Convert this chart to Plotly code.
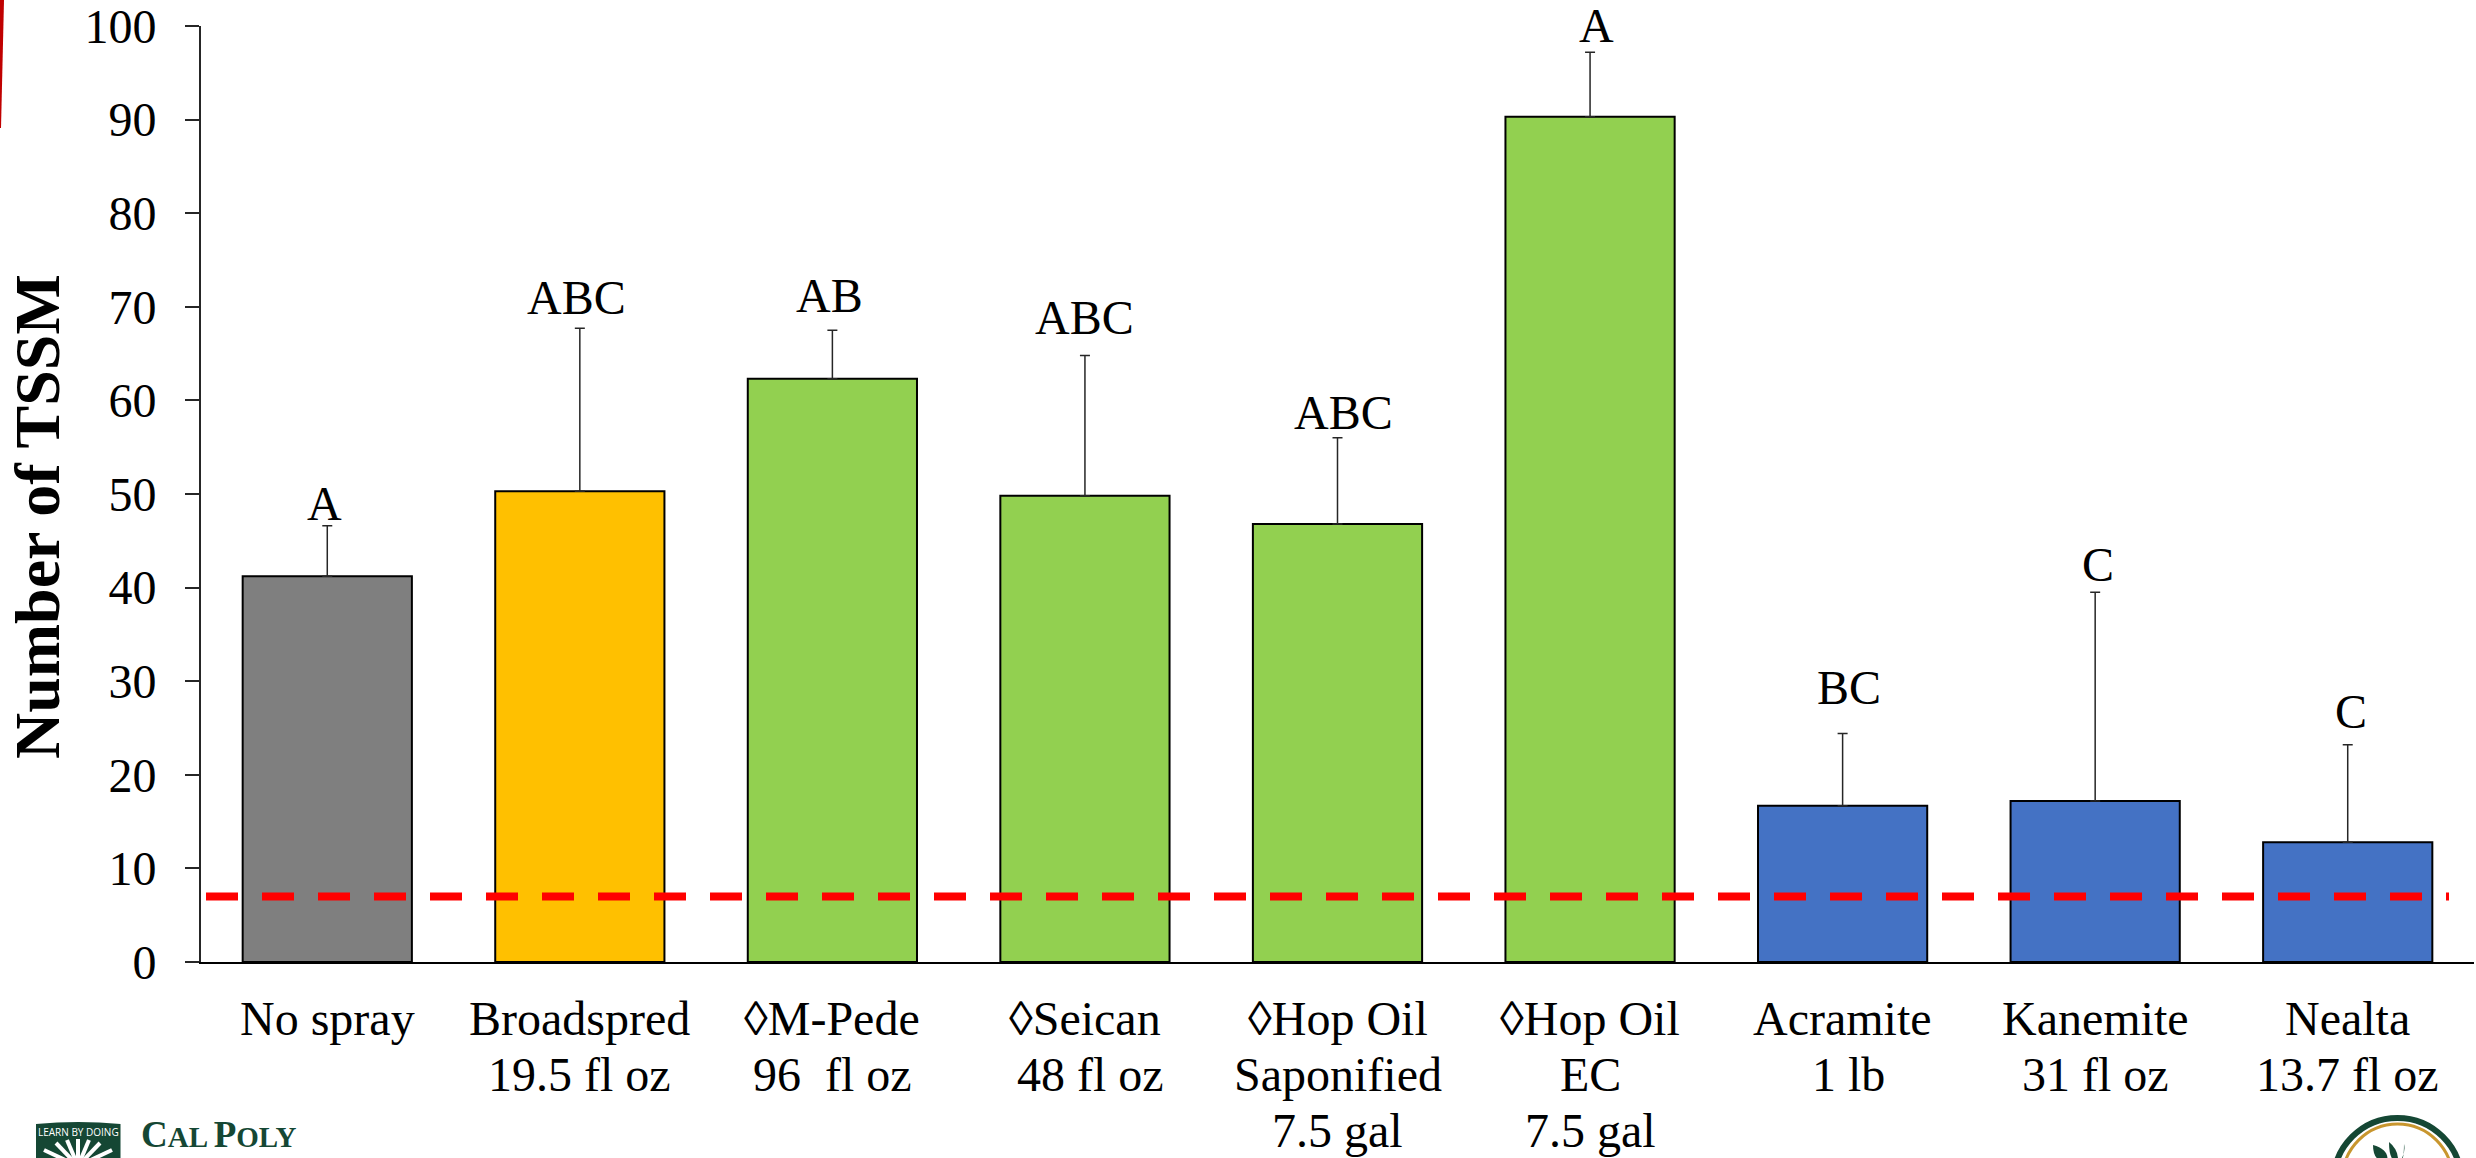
import plotly.graph_objects as go

W, H = 2476, 1158
SERIF = "Liberation Serif"

line1 = ["No spray", "Broadspred", "◊M-Pede", "◊Seican", "◊Hop Oil", "◊Hop Oil", "Acramite", "Kanemite", "Nealta"]
line2 = ["", "19.5 fl oz", "96  fl oz", "\u00a048 fl oz", "Saponified", "EC", "\u00a01 lb", "31 fl oz", "13.7 fl oz"]
line3 = ["", "", "", "", "7.5 gal", "7.5 gal", "", "", ""]
categories = ["No spray", "Broadspred 19.5 fl oz", "M-Pede 96 fl oz", "Seican 48 fl oz", "Hop Oil Saponified 7.5 gal",
              "Hop Oil EC 7.5 gal", "Acramite 1 lb", "Kanemite 31 fl oz", "Nealta 13.7 fl oz"]
values = [41.2, 50.3, 62.3, 49.8, 46.8, 90.3, 16.7, 17.2, 12.8]
upper_err = [5.4, 17.4, 5.2, 15.0, 9.2, 6.9, 7.7, 22.3, 10.4]
letters = ["A", "ABC", "AB", "ABC", "ABC", "A", "BC", "C", "C"]
letter_y = [49.0, 71.0, 71.2, 68.9, 58.7, 100.1, 29.3, 42.5, 26.8]
colors = ["#7F7F7F", "#FFC000", "#92D050", "#92D050", "#92D050", "#92D050", "#4472C4", "#4472C4", "#4472C4"]
threshold = 7
yticks = list(range(0, 101, 10))
y_max = 100

x_left, x_right, y_top, y_bottom = 201, 2474, 26, 962

def px(x): return (x - x_left) / (x_right - x_left)
def py(y): return (y_bottom - y) / (y_bottom - y_top)

fig = go.Figure()
fig.add_trace(go.Bar(
    x=categories, y=values, width=0.67,
    marker=dict(color=colors, line=dict(color="black", width=2)),
    error_y=dict(type="data", symmetric=False, array=upper_err, arrayminus=[0] * 9,
                 color="#262626", thickness=1.5, width=5),
    showlegend=False, hoverinfo="skip",
))
fig.add_shape(type="line", xref="paper", yref="y", x0=px(206), x1=px(2449), y0=threshold, y1=threshold,
              line=dict(color="#FF0000", width=8, dash="32px,24px"))

fig.update_layout(
    width=W, height=H, autosize=False, paper_bgcolor="white", plot_bgcolor="white",
    margin=dict(l=x_left, r=W - x_right, t=y_top, b=H - y_bottom, pad=0),
    bargap=0.33,
    font=dict(family=SERIF, size=48, color="black"),
    xaxis=dict(type="category", showline=True, linecolor="black", linewidth=2, ticks="",
               showticklabels=False, showgrid=False, zeroline=False, range=[-0.5, 8.5], automargin=False),
    yaxis=dict(range=[0, y_max], tickvals=yticks, ticks="outside", ticklen=14, tickwidth=2, tickcolor="#262626",
               showline=True, linecolor="#262626", linewidth=2, showgrid=False, zeroline=False,
               tickfont=dict(family=SERIF, size=48, color="black"), automargin=False,
               ticklabeloverflow="allow", ticklabelstandoff=19),
)

# category labels, one annotation per line for the source's tighter line spacing
for cat, a, b, c in zip(categories, line1, line2, line3):
    for text, y in ((a, 1018), (b, 1074), (c, 1130)):
        if text:
            fig.add_annotation(x=cat, yref="paper", y=py(y), text=text, showarrow=False, yanchor="middle",
                               font=dict(family=SERIF, size=48, color="black"))

# significance letters (paper-referenced so that the tallest one may sit just past the axis top)
letter_shift = [-3, -3, -3, 0, 6, 6, 6, 3, 3]
for cat, t, y, s in zip(categories, letters, letter_y, letter_shift):
    fig.add_annotation(x=cat, yref="paper", y=y / y_max, text=t, showarrow=False, xshift=s, yanchor="middle",
                       font=dict(family=SERIF, size=48, color="black"))

fig.add_annotation(xref="paper", yref="paper", x=px(37), y=py(517), text="<b>Number of TSSM</b>", textangle=-90,
                   showarrow=False, font=dict(family=SERIF, size=64, color="black"), xanchor="center", yanchor="middle")

GREEN = "#154734"
def pp(x, y): return f"{px(x)} {py(y)}"

# red sliver, top-left slide decoration
fig.add_shape(type="path", xref="paper", yref="paper",
              path=f"M {pp(0,0)} L {pp(4,0)} L {pp(1,128)} L {pp(0,128)} Z",
              fillcolor="#C00000", line=dict(width=0), layer="above")

# Cal Poly logo (runs off the page's lower edge)
fig.add_shape(type="path", xref="paper", yref="paper",
              path=f"M {pp(36,1124)} Q {pp(78,1120)} {pp(120.5,1124)} L {pp(120.5,1175)} L {pp(36,1175)} Z",
              fillcolor=GREEN, line=dict(width=0))
for x_end, y_end in ((44, 1150), (56, 1143), (67, 1140), (78, 1139), (89, 1140), (100, 1143), (112, 1150)):
    fig.add_shape(type="line", xref="paper", yref="paper", x0=px(78), y0=py(1166), x1=px(x_end), y1=py(y_end),
                  line=dict(color="white", width=4))
fig.add_annotation(xref="paper", yref="paper", x=px(78), y=py(1132), text="LEARN BY DOING", showarrow=False,
                   xanchor="center", yanchor="middle", font=dict(family="Open Sans", size=10, color="white"))
fig.add_annotation(xref="paper", yref="paper", x=px(139), y=py(1134),
                   text="<b><span style='font-size:37px'>C</span>AL <span style='font-size:37px'>P</span>OLY</b>",
                   showarrow=False, xanchor="left", yanchor="middle", font=dict(family=SERIF, size=29, color=GREEN))

# round badge, bottom-right (runs off the page's lower edge)
fig.add_shape(type="circle", xref="paper", yref="paper", x0=px(2333.5), x1=px(2461.5), y0=py(1246), y1=py(1118),
              fillcolor="white", line=dict(color=GREEN, width=6))
fig.add_shape(type="circle", xref="paper", yref="paper", x0=px(2342.5), x1=px(2452.5), y0=py(1234), y1=py(1124),
              fillcolor="white", line=dict(color="#C8962E", width=3))
for a, b, c in (((2373, 1145), (2390, 1150), (2387, 1162)),
                ((2389, 1142), (2399, 1150), (2398, 1162)),
                ((2404, 1144), (2406, 1152), (2400, 1162))):
    fig.add_shape(type="path", xref="paper", yref="paper",
                  path=f"M {pp(*a)} Q {pp(*b)} {pp(*c)} Q {pp(a[0], c[1])} {pp(*a)} Z",
                  fillcolor=GREEN, line=dict(width=0))

fig.write_html("out.html", config={"displayModeBar": False},
               post_script="document.body.style.margin='0';document.body.style.overflow='hidden';")
